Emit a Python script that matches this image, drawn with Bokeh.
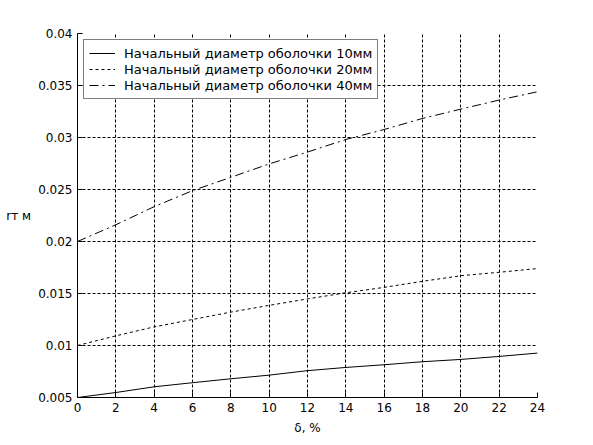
from bokeh.plotting import figure
from bokeh.models import Range1d, FixedTicker, Legend, LegendItem
from bokeh.embed import file_html
from bokeh.resources import INLINE

# ---- data ----
delta = [0, 2, 4, 6, 8, 10, 12, 14, 16, 18, 20, 22, 24]
r_10mm = [0.0050, 0.00548, 0.00603, 0.00642, 0.00680, 0.00715, 0.00758,
          0.00789, 0.00815, 0.00844, 0.00866, 0.00895, 0.00927]
r_20mm = [0.0100, 0.01093, 0.01179, 0.01250, 0.01321, 0.01386, 0.01448,
          0.01507, 0.01559, 0.01617, 0.01671, 0.01704, 0.01740]
r_40mm = [0.0200, 0.02161, 0.02335, 0.02489, 0.02617, 0.02746, 0.02860,
          0.02981, 0.03077, 0.03183, 0.03273, 0.03360, 0.03440]
legend_labels = ["Начальный диаметр оболочки 10мм",
                 "Начальный диаметр оболочки 20мм",
                 "Начальный диаметр оболочки 40мм"]
x_ticks = [0, 2, 4, 6, 8, 10, 12, 14, 16, 18, 20, 22, 24]
y_ticks = [0.005, 0.01, 0.015, 0.02, 0.025, 0.03, 0.035, 0.04]
y_tick_labels = ["0.005", "0.01", "0.015", "0.02", "0.025", "0.03", "0.035", "0.04"]
x_label = "δ, %"
y_label = "rт м"

FONT = "DejaVu Sans"

W, H = 585, 437
FL, FT = 77, 33          # frame left / top in canvas pixels
FR, FB = 537, 397        # frame right / bottom in canvas pixels

p = figure(width=W, height=H, output_backend="svg", toolbar_location=None,
           x_range=Range1d(0, 24), y_range=Range1d(0.005, 0.04),
           min_border_left=FL, min_border_right=W - FR, min_border_top=FT,
           min_border_bottom=H - FB)
p.outline_line_color = None
p.background_fill_color = "white"
p.border_fill_color = "white"

p.xaxis.ticker = FixedTicker(ticks=x_ticks)
p.yaxis.ticker = FixedTicker(ticks=y_ticks)
p.yaxis.major_label_overrides = {t: l for t, l in zip(y_ticks, y_tick_labels)}
for ax in (p.xaxis, p.yaxis):
    ax.axis_line_color = "black"
    ax.axis_line_width = 1
    ax.major_tick_line_color = "black"
    ax.major_tick_in = 5
    ax.major_tick_out = 0
    ax.minor_tick_line_color = None
    ax.major_label_text_font = FONT
    ax.major_label_text_font_size = "12px"
    ax.major_label_text_color = "black"
    ax.axis_label_text_font = FONT
    ax.axis_label_text_font_size = "12px"
    ax.axis_label_text_font_style = "normal"
    ax.axis_label_text_color = "black"
p.xaxis.major_label_standoff = 5
p.yaxis.major_label_standoff = 5
p.xaxis.axis_label = x_label
p.xaxis.axis_label_standoff = 6
p.yaxis.axis_label = y_label
p.yaxis.axis_label_orientation = "horizontal"
p.yaxis.axis_label_standoff = 4

for g in (p.xgrid, p.ygrid):
    g.grid_line_color = "black"
    g.grid_line_alpha = 1.0
    g.grid_line_dash = "3 2"
    g.grid_line_width = 1

r1 = p.line(delta, r_10mm, line_color="black", line_width=1)
r2 = p.line(delta, r_20mm, line_color="black", line_width=1, line_dash="3 3")
r3 = p.line(delta, r_40mm, line_color="black", line_width=1, line_dash="9 4 2 4")

legend = Legend(items=[LegendItem(label=legend_labels[0], renderers=[r1]),
                       LegendItem(label=legend_labels[1], renderers=[r2]),
                       LegendItem(label=legend_labels[2], renderers=[r3])],
                location="top_left")
legend.margin = 6
legend.padding = 5
legend.spacing = 0
legend.label_height = 16
legend.glyph_height = 16
legend.glyph_width = 26
legend.label_standoff = 9
legend.label_text_font = FONT
legend.label_text_font_size = "13px"
legend.label_text_color = "black"
legend.border_line_color = "black"
legend.border_line_width = 1
legend.background_fill_color = "white"
legend.background_fill_alpha = 1.0
p.add_layout(legend)

open("out.html", "w").write(file_html(p, INLINE))
